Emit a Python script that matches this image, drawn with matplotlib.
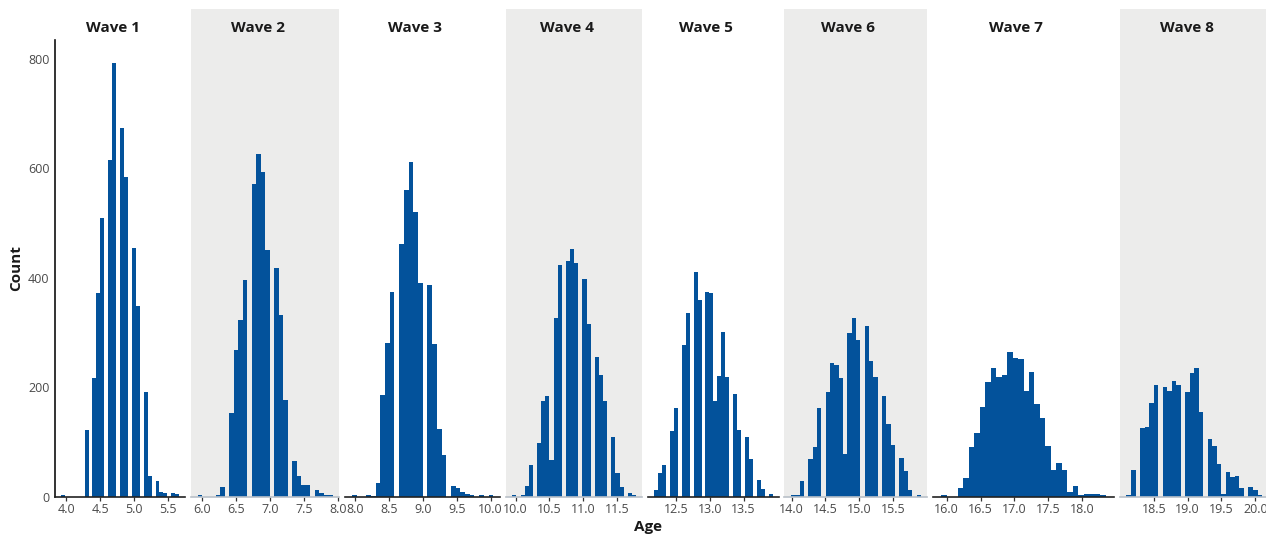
import numpy as np
import matplotlib
matplotlib.use("Agg")
import matplotlib.pyplot as plt
from matplotlib.patches import Rectangle
from matplotlib.ticker import FormatStrFormatter

# ---------------- data ----------------
waves = ["Wave 1", "Wave 2", "Wave 3", "Wave 4", "Wave 5", "Wave 6", "Wave 7", "Wave 8"]

# age range covered by the 30 histogram bins of each wave
age_min = [3.922, 5.932, 7.956, 9.951, 12.178, 13.990, 15.922, 18.097]
age_max = [5.669, 7.925, 10.040, 11.780, 13.931, 15.909, 18.349, 20.099]

counts_w1 = [2, 0, 0, 0, 0, 0, 121, 0, 217, 373, 510, 0, 616, 793, 0, 674, 584, 0, 455, 349, 0, 191, 38, 0, 29, 9, 7, 0, 6, 4]
counts_w2 = [2, 0, 0, 0, 3, 18, 0, 152, 268, 322, 396, 0, 572, 626, 594, 451, 0, 418, 331, 176, 0, 65, 38, 21, 21, 0, 12, 6, 3, 3]
counts_w3 = [2, 0, 0, 3, 1, 25, 185, 281, 374, 0, 462, 560, 612, 520, 391, 0, 387, 279, 123, 76, 0, 20, 16, 9, 5, 3, 0, 2, 0, 2]
counts_w4 = [2, 0, 2, 20, 58, 0, 97, 174, 183, 66, 326, 423, 0, 431, 453, 427, 0, 398, 315, 0, 256, 223, 174, 0, 108, 43, 18, 0, 7, 3]
counts_w5 = [11, 43, 57, 0, 119, 161, 0, 277, 336, 0, 411, 360, 0, 374, 372, 174, 220, 301, 218, 0, 187, 121, 0, 108, 68, 0, 31, 13, 0, 4]
counts_w6 = [2, 2, 29, 0, 68, 90, 161, 0, 191, 244, 240, 217, 77, 299, 327, 286, 0, 312, 248, 218, 0, 183, 132, 94, 0, 70, 46, 11, 0, 2]
counts_w7 = [2, 0, 0, 15, 33, 90, 116, 163, 209, 235, 218, 222, 264, 253, 251, 193, 228, 169, 143, 92, 48, 62, 48, 9, 20, 2, 4, 4, 4, 2]
counts_w8 = [2, 48, 0, 125, 128, 171, 204, 0, 200, 193, 211, 204, 0, 191, 226, 235, 154, 0, 106, 92, 59, 4, 44, 35, 37, 15, 0, 17, 11, 2]
all_counts = [counts_w1, counts_w2, counts_w3, counts_w4, counts_w5, counts_w6, counts_w7, counts_w8]

x_ticks = [
    [4.0, 4.5, 5.0, 5.5],
    [6.0, 6.5, 7.0, 7.5, 8.0],
    [8.0, 8.5, 9.0, 9.5, 10.0],
    [10.0, 10.5, 11.0, 11.5],
    [12.5, 13.0, 13.5],
    [14.0, 14.5, 15.0, 15.5],
    [16.0, 16.5, 17.0, 17.5, 18.0],
    [18.5, 19.0, 19.5, 20.0],
]
y_ticks = [0, 200, 400, 600, 800]

# ---------------- style ----------------
W, H = 1266, 536
BAR = "#03529b"
PANEL_GRAY = "#ececeb"
TXT = "#4a4a4a"
plt.rcParams["font.family"] = ["Open Sans", "DejaVu Sans"]

fig = plt.figure(figsize=(W / 100, H / 100), dpi=100)

px_per_year = 67.7
left_px = 55.0
gap_px = 5.8
bottom_px = 496.5   # y pixel of zero line (from top)
top_px = 40.0       # y pixel of axes top
strip_top_px = 9.0
ymax = (bottom_px - top_px) / ((bottom_px - 59.0) / 800.0)

x = left_px
for i, (name, lo, hi, cnt, xt) in enumerate(zip(waves, age_min, age_max, all_counts, x_ticks)):
    rng = hi - lo
    xlo, xhi = lo - 0.05 * rng, hi + 0.05 * rng
    wpx = (xhi - xlo) * px_per_year
    ax = fig.add_axes([x / W, (H - bottom_px) / H, wpx / W, (bottom_px - top_px) / H])
    edges = np.linspace(lo, hi, len(cnt) + 1)
    centers = (edges[:-1] + edges[1:]) / 2
    ax.hist(centers, bins=edges, weights=cnt, color=BAR, edgecolor="none")
    ax.set_xlim(xlo, xhi)
    ax.set_ylim(0, ymax)
    ax.set_xticks(xt)
    ax.xaxis.set_major_formatter(FormatStrFormatter("%.1f"))
    even = (i % 2 == 1)
    ax.set_facecolor(PANEL_GRAY if even else "white")
    for s in ["top", "right"]:
        ax.spines[s].set_visible(False)
    ax.spines["bottom"].set_color("#b9c0c8" if even else "#222222")
    ax.spines["bottom"].set_linewidth(1.2)
    ax.tick_params(axis="x", length=3, width=0.9, color="#333333", labelsize=9,
                   labelcolor=TXT, pad=2)
    if i == 0:
        ax.spines["left"].set_color("#111111")
        ax.spines["left"].set_linewidth(1.2)
        ax.set_yticks(y_ticks)
        ax.tick_params(axis="y", length=0, labelsize=9, labelcolor=TXT, pad=4)
    else:
        ax.spines["left"].set_visible(False)
        ax.set_yticks([])
    # strip above the panel
    if even:
        fig.patches.append(Rectangle((x / W, (H - top_px) / H), wpx / W,
                                     (top_px - strip_top_px) / H,
                                     transform=fig.transFigure, facecolor=PANEL_GRAY,
                                     edgecolor="none", zorder=0))
    fig.text((x + wpx / 2 - 7.5) / W, 1 - 27.5 / H, name, ha="center", va="center",
             fontsize=11, fontweight="bold", color="#1a1a1a")
    x += wpx + gap_px

fig.text(16 / W, 1 - 268 / H, "Count", rotation=90, ha="center", va="center",
         fontsize=11, fontweight="bold", color="#1a1a1a")
fig.text(648 / W, 1 - 527 / H, "Age", ha="center", va="center",
         fontsize=11, fontweight="bold", color="#1a1a1a")

fig.savefig("out.png", dpi=100)
